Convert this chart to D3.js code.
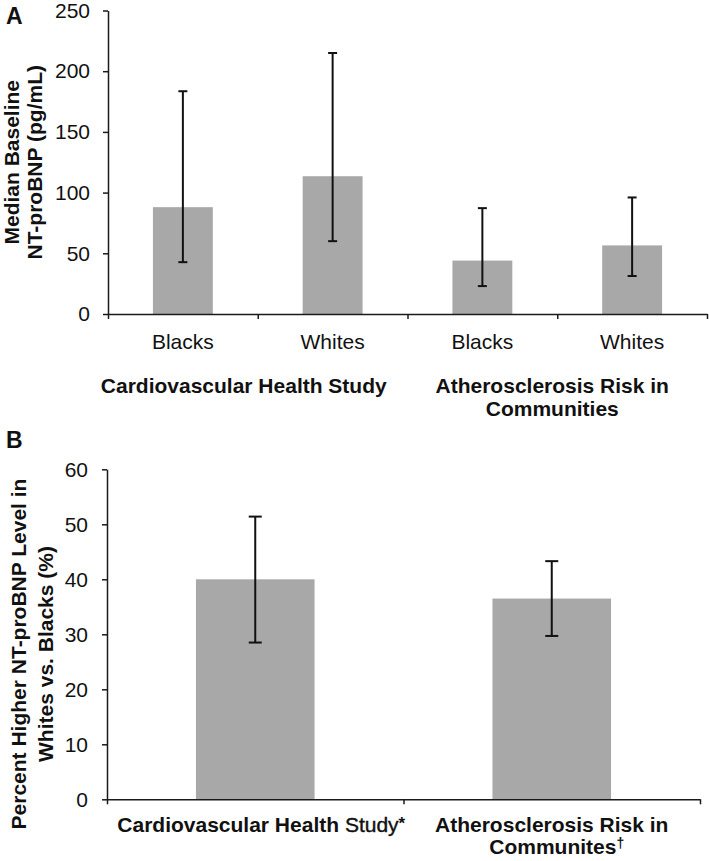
<!DOCTYPE html>
<html>
<head>
<meta charset="utf-8">
<script src="https://cdn.jsdelivr.net/npm/d3@7/dist/d3.min.js"></script>
<style>
  html, body { margin: 0; padding: 0; background: #fff; }
  svg { display: block; font-family: "Liberation Sans", Arial, Helvetica, sans-serif; }
</style>
</head>
<body>
<svg id="chart" width="709" height="861"></svg>
<script>
// ---------- Panel A data ----------
const categoriesA = ["Blacks", "Whites", "Blacks", "Whites"];
const groupsA = [["Cardiovascular Health Study"], ["Atherosclerosis Risk in", "Communities"]];
const mediansA = [88, 113.5, 44, 56.5];
const lowerA = [42.7, 60, 23, 31.3];
const upperA = [183.5, 215, 87.2, 96];
const ticksA = [0, 50, 100, 150, 200, 250];
const yTitleA = ["Median Baseline", "NT-proBNP (pg/mL)"];

// ---------- Panel B data ----------
const categoriesB = ["Cardiovascular Health Study*", "Atherosclerosis Risk in Communites†"];
const pctB = [40, 36.5];
const lowerB = [28.5, 29.7];
const upperB = [51.4, 43.3];
const ticksB = [0, 10, 20, 30, 40, 50, 60];
const yTitleB = ["Percent Higher NT-proBNP Level in", "Whites vs. Blacks (%)"];

const svg = d3.select("#chart");
const BAR = "#a8a8a8";
const AX = "#1a1a1a";

function styleAxis(g) {
  g.selectAll("path.domain").attr("stroke", AX).attr("stroke-width", 1.5);
  g.selectAll(".tick line").attr("stroke", AX).attr("stroke-width", 1.5);
  g.selectAll(".tick text").attr("fill", "#111").style("font-size", "21px")
    .style("font-family", "'Liberation Sans', Arial, sans-serif");
}

// ================= Panel A =================
{
  const x0 = 108, x1 = 707, yTop = 10.5, yBot = 314;
  const x = d3.scaleBand().domain(d3.range(categoriesA.length)).range([x0, x1]);
  const xb = d3.scaleLinear().domain([0, categoriesA.length]).range([x0, x1]);
  const y = d3.scaleLinear().domain([0, 250]).range([yBot, yTop]);
  const bw = x.bandwidth() * 0.4;

  svg.append("text").attr("x", 6).attr("y", 24).text("A")
    .style("font-weight", "bold").style("font-size", "23px").attr("fill", "#111");

  svg.append("g").selectAll("rect").data(mediansA).join("rect")
    .attr("x", (d, i) => x(i) + x.bandwidth() / 2 - bw / 2)
    .attr("width", bw)
    .attr("y", d => y(d))
    .attr("height", d => y(0) - y(d))
    .attr("fill", BAR);

  const eb = svg.append("g").attr("stroke", "#111").attr("stroke-width", 2);
  const cap = 4.5;
  mediansA.forEach((d, i) => {
    const cx = x(i) + x.bandwidth() / 2;
    eb.append("line").attr("x1", cx).attr("x2", cx).attr("y1", y(lowerA[i])).attr("y2", y(upperA[i]));
    eb.append("line").attr("x1", cx - cap).attr("x2", cx + cap).attr("y1", y(lowerA[i])).attr("y2", y(lowerA[i]));
    eb.append("line").attr("x1", cx - cap).attr("x2", cx + cap).attr("y1", y(upperA[i])).attr("y2", y(upperA[i]));
  });

  const ya = svg.append("g").attr("transform", `translate(${x0},0)`)
    .call(d3.axisLeft(y).tickValues(ticksA).tickSize(5).tickSizeOuter(0).tickPadding(13));
  styleAxis(ya);

  const xa = svg.append("g").attr("transform", `translate(0,${yBot})`)
    .call(d3.axisBottom(xb).tickValues(d3.range(categoriesA.length + 1)).tickSize(5).tickSizeOuter(0).tickFormat(""));
  styleAxis(xa);

  svg.append("g").selectAll("text").data(categoriesA).join("text")
    .attr("x", (d, i) => x(i) + x.bandwidth() / 2)
    .attr("y", 349)
    .attr("text-anchor", "middle")
    .style("font-size", "21px").attr("fill", "#111")
    .text(d => d);

  const groupOffsets = [-14, -5];
  groupsA.forEach((lines, gi) => {
    const cx = (xb(gi * 2) + xb(gi * 2 + 2)) / 2 + groupOffsets[gi];
    lines.forEach((ln, li) => {
      svg.append("text").attr("x", cx).attr("y", 393 + li * 23)
        .attr("text-anchor", "middle").style("font-size", "21px").style("font-weight", "bold")
        .attr("fill", "#111").text(ln);
    });
  });

  const cy = (yTop + yBot) / 2;
  yTitleA.forEach((ln, li) => {
    svg.append("text")
      .attr("transform", `translate(${19 + li * 23},${cy}) rotate(-90)`)
      .attr("text-anchor", "middle").style("font-size", "21px").style("font-weight", "bold")
      .attr("fill", "#111").text(ln);
  });
}

// ================= Panel B =================
{
  const x0 = 107, x1 = 700, yTop = 469.3, yBot = 799.3;
  const x = d3.scaleBand().domain(d3.range(categoriesB.length)).range([x0, x1]);
  const xb = d3.scaleLinear().domain([0, categoriesB.length]).range([x0, x1]);
  const y = d3.scaleLinear().domain([0, 60]).range([yBot, yTop]);
  const bw = x.bandwidth() * 0.4;

  svg.append("text").attr("x", 6).attr("y", 448).text("B")
    .style("font-weight", "bold").style("font-size", "23px").attr("fill", "#111");

  svg.append("g").selectAll("rect").data(pctB).join("rect")
    .attr("x", (d, i) => x(i) + x.bandwidth() / 2 - bw / 2)
    .attr("width", bw)
    .attr("y", d => y(d))
    .attr("height", d => y(0) - y(d))
    .attr("fill", BAR);

  const eb = svg.append("g").attr("stroke", "#111").attr("stroke-width", 2);
  const cap = 6.5;
  pctB.forEach((d, i) => {
    const cx = x(i) + x.bandwidth() / 2;
    eb.append("line").attr("x1", cx).attr("x2", cx).attr("y1", y(lowerB[i])).attr("y2", y(upperB[i]));
    eb.append("line").attr("x1", cx - cap).attr("x2", cx + cap).attr("y1", y(lowerB[i])).attr("y2", y(lowerB[i]));
    eb.append("line").attr("x1", cx - cap).attr("x2", cx + cap).attr("y1", y(upperB[i])).attr("y2", y(upperB[i]));
  });

  const ya = svg.append("g").attr("transform", `translate(${x0},0)`)
    .call(d3.axisLeft(y).tickValues(ticksB).tickSize(5).tickSizeOuter(0).tickPadding(14));
  styleAxis(ya);

  const xa = svg.append("g").attr("transform", `translate(0,${yBot})`)
    .call(d3.axisBottom(xb).tickValues(d3.range(categoriesB.length + 1)).tickSize(5).tickSizeOuter(0).tickFormat(""));
  styleAxis(xa);

  // Category label 1: "Cardiovascular Health Study*"
  {
    const cx = x(0) + x.bandwidth() / 2 + 6;
    const t = svg.append("text").attr("x", cx).attr("y", 832).attr("text-anchor", "middle")
      .style("font-size", "21px").attr("fill", "#111");
    const lbl = categoriesB[0];
    const main = lbl.slice(0, lbl.lastIndexOf(" ") + 1);
    const rest = lbl.slice(lbl.lastIndexOf(" ") + 1, -1);
    t.append("tspan").style("font-weight", "bold").text(main);
    t.append("tspan").style("font-weight", "normal").style("stroke", "#111").style("stroke-width", 0.4).text(rest);
    t.append("tspan").style("font-weight", "bold").style("font-size", "17px").attr("dy", -3).text(lbl.slice(-1));
  }
  // Category label 2: "Atherosclerosis Risk in / Communites†"
  {
    const cx = x(1) + x.bandwidth() / 2;
    const lbl = categoriesB[1];
    const l1 = "Atherosclerosis Risk in";
    const l2 = lbl.slice(l1.length + 1, -1);
    svg.append("text").attr("x", cx).attr("y", 832).attr("text-anchor", "middle")
      .style("font-size", "21px").style("font-weight", "bold").attr("fill", "#111").text(l1);
    const t2 = svg.append("text").attr("x", cx + 5).attr("y", 854).attr("text-anchor", "middle")
      .style("font-size", "21px").style("font-weight", "bold").attr("fill", "#111");
    t2.append("tspan").text(l2);
    t2.append("tspan").style("font-size", "14px").attr("dy", -6).text(lbl.slice(-1));
  }

  const cy = 654;
  yTitleB.forEach((ln, li) => {
    svg.append("text")
      .attr("transform", `translate(${26 + li * 27},${cy}) rotate(-90)`)
      .attr("text-anchor", "middle").style("font-size", "21px").style("font-weight", "bold")
      .attr("fill", "#111").text(ln);
  });
}
</script>
</body>
</html>
